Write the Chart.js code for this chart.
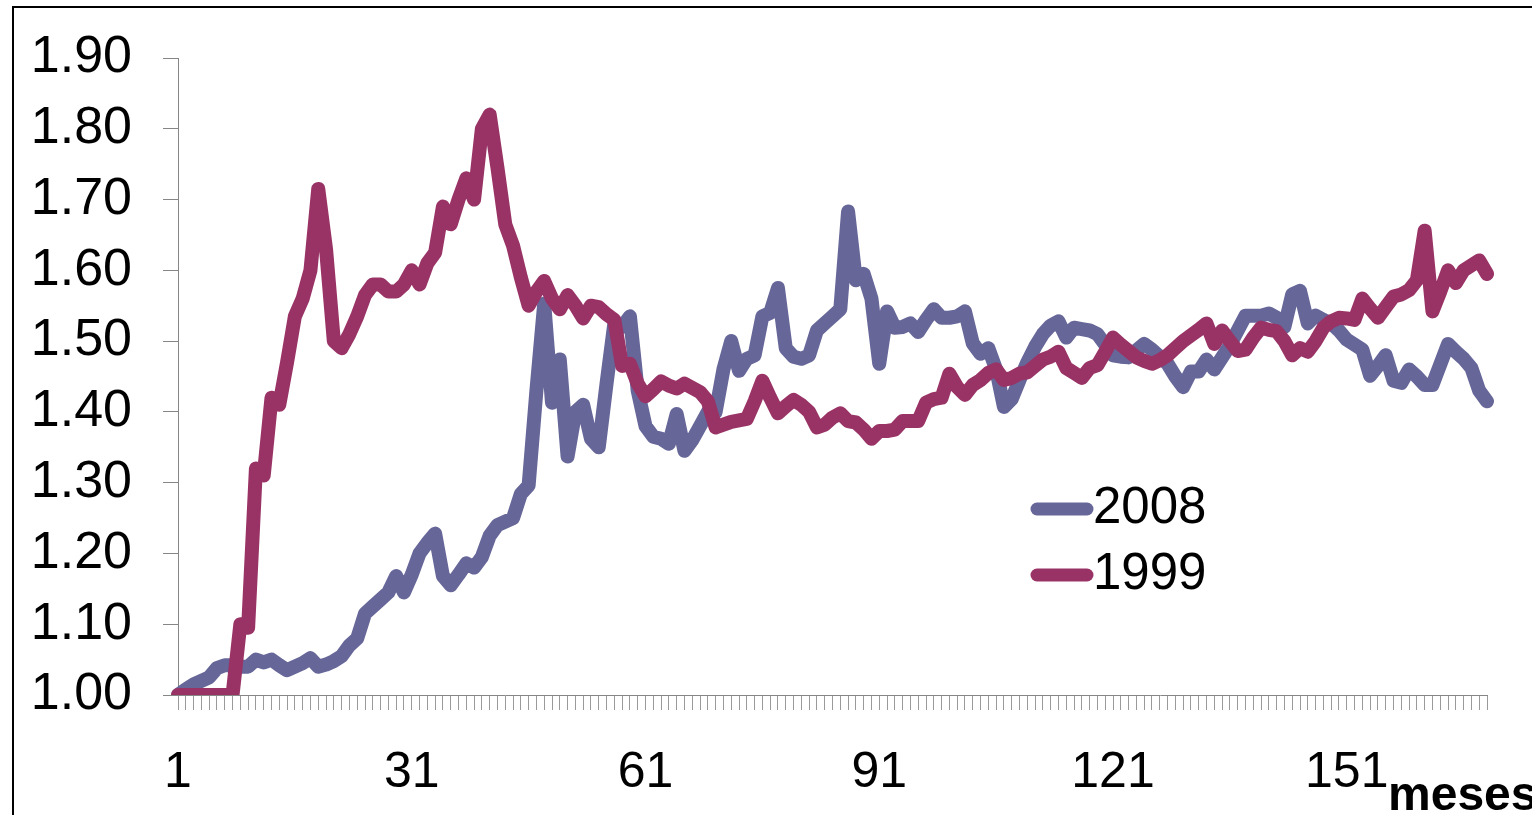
<!DOCTYPE html>
<html>
<head>
<meta charset="utf-8">
<title>2008 vs 1999</title>
<script src="https://cdn.jsdelivr.net/npm/chart.js@4.4.1/dist/chart.umd.min.js"></script>
<style>
  html, body { margin: 0; padding: 0; background: #fff; overflow: hidden; }
  #wrap { position: relative; width: 1532px; height: 815px; }
</style>
</head>
<body>
<div id="wrap"><canvas id="chart" width="1532" height="815"></canvas></div>
<script>
// months 1..169 on the category axis
const months = [];
for (let m = 1; m <= 169; m++) months.push(String(m));

const tickLabels = ['1', '31', '61', '91', '121', '151'];

// serie 2008
const s2008 = [
  1.000, 1.008, 1.015, 1.020, 1.025, 1.038, 1.042, 1.042, 1.040, 1.040,
  1.050, 1.046, 1.050, 1.042, 1.035, 1.040, 1.045, 1.052, 1.040, 1.043,
  1.048, 1.055, 1.070, 1.080, 1.115, 1.125, 1.135, 1.145, 1.168, 1.145,
  1.170, 1.200, 1.215, 1.228, 1.168, 1.155, 1.170, 1.186, 1.180, 1.195,
  1.225, 1.240, 1.245, 1.250, 1.284, 1.296, 1.430, 1.553, 1.413, 1.474,
  1.337, 1.400, 1.410, 1.362, 1.350, 1.440, 1.525, 1.520, 1.535, 1.430,
  1.380, 1.365, 1.362, 1.355, 1.397, 1.345, 1.360, 1.380, 1.400, 1.400,
  1.460, 1.500, 1.458, 1.475, 1.480, 1.535, 1.540, 1.575, 1.490, 1.478,
  1.475, 1.480, 1.515, 1.525, 1.535, 1.545, 1.683, 1.586, 1.595, 1.560,
  1.468, 1.542, 1.519, 1.520, 1.525, 1.513, 1.530, 1.545, 1.533, 1.533,
  1.535, 1.542, 1.497, 1.482, 1.490, 1.460, 1.407, 1.418, 1.445, 1.470,
  1.492, 1.510, 1.522, 1.528, 1.505, 1.519, 1.517, 1.515, 1.510, 1.495,
  1.480, 1.478, 1.477, 1.487, 1.496, 1.488, 1.478, 1.468, 1.450, 1.435,
  1.457, 1.457, 1.474, 1.460, 1.477, 1.494, 1.515, 1.536, 1.536, 1.536,
  1.539, 1.533, 1.520, 1.566, 1.571, 1.525, 1.536, 1.530, 1.525, 1.515,
  1.502, 1.495, 1.488, 1.451, 1.465, 1.480, 1.444, 1.441, 1.460, 1.450,
  1.438, 1.438, 1.467, 1.496, 1.485, 1.475, 1.462, 1.430, 1.415
];

// serie 1999
const s1999 = [
  1.000, 1.000, 1.000, 1.000, 1.000, 1.000, 1.000, 1.000, 1.100, 1.095,
  1.320, 1.310, 1.420, 1.410, 1.470, 1.535, 1.560, 1.600, 1.715, 1.630,
  1.500, 1.490, 1.510, 1.535, 1.565, 1.580, 1.580, 1.570, 1.570, 1.580,
  1.600, 1.580, 1.610, 1.625, 1.690, 1.665, 1.700, 1.730, 1.700, 1.800,
  1.820, 1.745, 1.665, 1.635, 1.590, 1.550, 1.570, 1.585, 1.560, 1.545,
  1.565, 1.550, 1.532, 1.550, 1.548, 1.538, 1.530, 1.465, 1.468, 1.440,
  1.422, 1.432, 1.443, 1.437, 1.433, 1.440, 1.434, 1.428, 1.415, 1.378,
  1.382, 1.386, 1.388, 1.390, 1.415, 1.444, 1.420, 1.398, 1.408, 1.417,
  1.410, 1.400, 1.378, 1.382, 1.392, 1.398, 1.387, 1.385, 1.375, 1.362,
  1.373, 1.373, 1.375, 1.387, 1.387, 1.387, 1.413, 1.418, 1.420, 1.454,
  1.435, 1.424, 1.438, 1.445, 1.455, 1.460, 1.445, 1.448, 1.454, 1.456,
  1.465, 1.474, 1.478, 1.485, 1.462, 1.455, 1.448, 1.462, 1.466, 1.485,
  1.505, 1.495, 1.486, 1.477, 1.472, 1.468, 1.473, 1.480, 1.490, 1.500,
  1.508, 1.516, 1.525, 1.496, 1.515, 1.500, 1.486, 1.488, 1.505, 1.519,
  1.516, 1.514, 1.500, 1.480, 1.490, 1.485, 1.500, 1.519, 1.528, 1.533,
  1.532, 1.530, 1.560, 1.546, 1.533, 1.548, 1.563, 1.566, 1.572, 1.586,
  1.656, 1.542, 1.570, 1.600, 1.582, 1.600, 1.607, 1.614, 1.595
];

const seriesNames = ['2008', '1999'];
const seriesColors = ['#666699', '#993366'];

const FONT = 'Liberation Sans, Arial, Helvetica, sans-serif';

// legend inside the plot, axis name and outer frame
const decorations = {
    id: 'decorations',
    beforeDraw(chart) {
        const ctx = chart.ctx;
        ctx.save();
        ctx.strokeStyle = '#000';
        ctx.lineWidth = 2;
        ctx.strokeRect(13, 7, 2000, 2000);
        ctx.restore();
    },
    afterDraw(chart) {
        const ctx = chart.ctx;
        ctx.save();
        chart.data.datasets.forEach((ds, i) => {
            const y = 509 + i * 66;
            ctx.strokeStyle = ds.borderColor;
            ctx.lineWidth = 13;
            ctx.lineCap = 'round';
            ctx.beginPath();
            ctx.moveTo(1037, y);
            ctx.lineTo(1087, y);
            ctx.stroke();
            ctx.fillStyle = '#000';
            ctx.font = '51px ' + FONT;
            ctx.textAlign = 'left';
            ctx.textBaseline = 'middle';
            ctx.fillText(ds.label, 1093, y);
        });
        ctx.font = 'bold 48px ' + FONT;
        ctx.textAlign = 'left';
        ctx.textBaseline = 'alphabetic';
        ctx.fillStyle = '#000';
        ctx.fillText('meses', 1388, 810);
        ctx.restore();
    }
};

new Chart(document.getElementById('chart'), {
    type: 'line',
    data: {
        labels: months,
        datasets: [
            { label: seriesNames[0], data: s2008, borderColor: seriesColors[0], backgroundColor: seriesColors[0], order: 2 },
            { label: seriesNames[1], data: s1999, borderColor: seriesColors[1], backgroundColor: seriesColors[1], order: 1 }
        ]
    },
    options: {
        responsive: false,
        animation: false,
        devicePixelRatio: 1,
        layout: { padding: { left: 0, top: 58, right: 45, bottom: 0 } },
        elements: {
            point: { radius: 0 },
            line: { tension: 0, borderWidth: 14, borderJoinStyle: 'round', borderCapStyle: 'round', fill: false }
        },
        plugins: {
            legend: { display: false },
            tooltip: { enabled: false }
        },
        scales: {
            x: {
                type: 'category',
                offset: false,
                grid: { drawOnChartArea: false, drawTicks: true, tickLength: 15, color: '#9a9a9a', lineWidth: 1 },
                border: { color: '#868686', width: 1 },
                ticks: {
                    autoSkip: false,
                    maxRotation: 0,
                    minRotation: 0,
                    padding: 33,
                    color: '#000',
                    font: { family: FONT, size: 50 },
                    callback: function(value, index) {
                        const lab = months[index];
                        return tickLabels.includes(lab) ? lab : '';
                    }
                },
                afterFit: function(scale) { scale.height = 120; }
            },
            y: {
                min: 1.0,
                max: 1.9,
                grid: { drawOnChartArea: false, drawTicks: true, tickLength: 15, color: '#868686', lineWidth: 1 },
                border: { color: '#868686', width: 1 },
                ticks: {
                    stepSize: 0.1,
                    padding: 31,
                    color: '#000',
                    font: { family: FONT, size: 52 },
                    callback: function(value) { return Number(value).toFixed(2); }
                },
                afterFit: function(scale) {
                    scale.width = 178;
                    scale.paddingTop = 30;
                    scale.paddingBottom = 30;
                }
            }
        }
    },
    plugins: [decorations]
});
</script>
</body>
</html>
